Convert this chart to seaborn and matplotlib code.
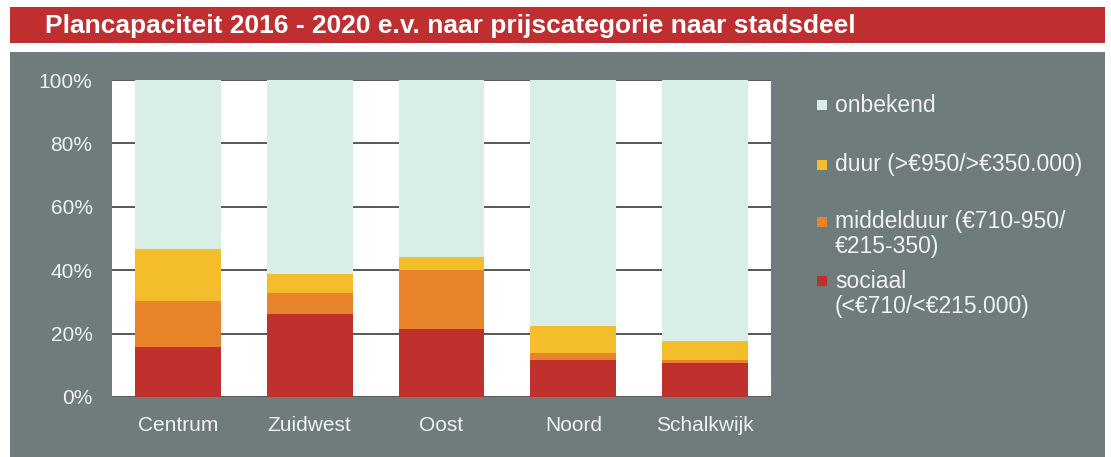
import matplotlib
matplotlib.use("Agg")
import matplotlib.pyplot as plt
from matplotlib.patches import Rectangle
import seaborn as sns
import numpy as np
import pandas as pd

# ---- data ----
stadsdelen = ["Centrum", "Zuidwest", "Oost", "Noord", "Schalkwijk"]
sociaal = [15.9, 26.1, 21.4, 11.7, 10.7]
middelduur = [14.4, 6.6, 18.6, 2.3, 1.0]
duur = [16.3, 6.1, 4.2, 8.4, 6.0]
onbekend = [53.4, 61.2, 55.8, 77.6, 82.3]

series_names = ["sociaal", "middelduur", "duur", "onbekend"]
legend_labels = {
    "onbekend": "onbekend",
    "duur": "duur (>€950/>€350.000)",
    "middelduur": "middelduur (€710-950/\n€215-350)",
    "sociaal": "sociaal\n(<€710/<€215.000)",
}
title = "Plancapaciteit 2016 - 2020 e.v. naar prijscategorie naar stadsdeel"
yticks = [0, 20, 40, 60, 80, 100]
ytick_labels = ["0%", "20%", "40%", "60%", "80%", "100%"]

# ---- style ----
colors = {"sociaal": "#c0302c", "middelduur": "#e8832a",
          "duur": "#f3bd2c", "onbekend": "#d9efe6"}
panel_gray = "#6e7c7e"
title_red = "#bf2f2f"
text_col = "#f2f2f2"

sns.set_style("white")
plt.rcParams["font.family"] = ["Liberation Sans", "DejaVu Sans"]

W, H = 1111, 457
fig = plt.figure(figsize=(W / 100, H / 100), dpi=100, facecolor="white")

# background panel and title bar
fig.add_artist(Rectangle((10 / W, 0), 1095 / W, (H - 52) / H,
                         transform=fig.transFigure, facecolor=panel_gray,
                         edgecolor="none", zorder=-10))
fig.add_artist(Rectangle((10 / W, (H - 43) / H), 1095 / W, 36 / H,
                         transform=fig.transFigure, facecolor=title_red,
                         edgecolor="none", zorder=-10))
fig.text(45 / W, 1 - 33.5 / H, title, color="white", fontsize=19,
         fontweight="bold", va="baseline", ha="left")

ax = fig.add_axes([112 / W, (H - 397) / H, (771 - 112) / W, (397 - 80) / H])
ax.set_facecolor("white")

layers = np.array([sociaal, middelduur, duur, onbekend])
cum = np.cumsum(layers, axis=0)
for i in reversed(range(len(series_names))):
    df = pd.DataFrame({"stadsdeel": stadsdelen, "waarde": cum[i]})
    sns.barplot(data=df, x="stadsdeel", y="waarde",
                color=colors[series_names[i]], saturation=1, width=0.65,
                linewidth=0, errorbar=None, ax=ax, zorder=2)

ax.set_ylim(0, 100)
ax.set_xlim(-0.5, len(stadsdelen) - 0.5)
ax.set_yticks(yticks)
ax.set_yticklabels(ytick_labels)
ax.set_xlabel("")
ax.set_ylabel("")
ax.set_axisbelow(True)
ax.yaxis.grid(True, color="#4a4a4a", linewidth=1.3)
ax.xaxis.grid(False)
for s in ax.spines.values():
    s.set_visible(False)
ax.tick_params(axis="y", length=0, pad=14, labelsize=15, labelcolor=text_col)
ax.tick_params(axis="x", length=0, pad=14, labelsize=15, labelcolor=text_col)

# legend (manual, to follow the reference spacing)
legend_rows = [("onbekend", 105, 105), ("duur", 165, 165),
               ("middelduur", 222, 234), ("sociaal", 281, 294)]
for name, sq_y, txt_y in legend_rows:
    fig.add_artist(Rectangle((817 / W, 1 - (sq_y + 5) / H), 10 / W, 10 / H,
                             transform=fig.transFigure,
                             facecolor=colors[name], edgecolor="none"))
    fig.text(835 / W, 1 - txt_y / H, legend_labels[name], color=text_col,
             fontsize=16.5, va="center", ha="left", linespacing=1.15)

fig.savefig("out.png", dpi=100, facecolor=fig.get_facecolor())
